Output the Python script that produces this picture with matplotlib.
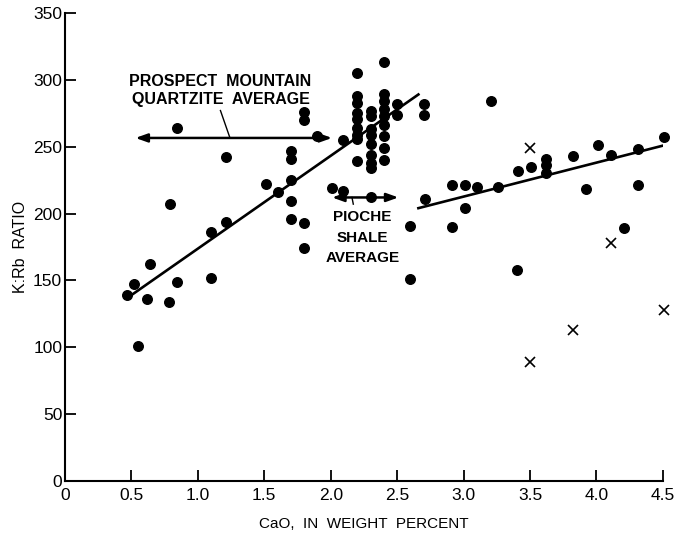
import matplotlib.pyplot as plt

plt.rcParams['font.family'] = ['Liberation Sans', 'DejaVu Sans']

# filled circles (CaO wt %, K:Rb ratio)
dot_x = [0.47, 0.52, 0.55, 0.62, 0.64, 0.78, 0.79, 0.84, 0.84, 1.10, 1.10, 1.21, 1.21,
         1.51, 1.60, 1.70, 1.70, 1.70, 1.70, 1.70, 1.80, 1.80, 1.80, 1.80, 1.90,
         2.01, 2.09, 2.09,
         2.2, 2.2, 2.2, 2.2, 2.2, 2.2, 2.2, 2.2, 2.2,
         2.3, 2.3, 2.3, 2.3, 2.3, 2.3, 2.3, 2.3, 2.3,
         2.4, 2.4, 2.4, 2.4, 2.4, 2.4, 2.4, 2.4, 2.4,
         2.5, 2.5, 2.7, 2.7,
         2.60, 2.60, 2.71, 2.91, 2.91, 3.01, 3.01, 3.10, 3.21, 3.26, 3.40, 3.41, 3.51,
         3.62, 3.62, 3.62, 3.82, 3.92, 4.01, 4.11, 4.21, 4.31, 4.31, 4.51]
dot_y = [139, 147, 101, 136, 162, 134, 207, 149, 264, 152, 186, 194, 242,
         222, 216, 247, 241, 225, 209, 196, 276, 270, 193, 174, 258,
         219, 217, 255,
         305, 288, 283, 275, 271, 264, 259, 256, 239,
         277, 273, 263, 259, 252, 244, 238, 234, 212,
         313, 289, 284, 278, 273, 266, 258, 249, 240,
         282, 274, 282, 274,
         191, 151, 211, 221, 190, 221, 204, 220, 284, 220, 158, 232, 235,
         241, 236, 230, 243, 218, 251, 244, 189, 248, 221, 257]

# crosses
cross_x = [3.50, 3.50, 3.82, 4.11, 4.51]
cross_y = [249, 89, 113, 178, 128]

# fitted lines (end points)
trend1_x = [0.50, 2.66]
trend1_y = [139, 289]
trend2_x = [2.66, 4.51]
trend2_y = [204, 251]

# averages shown as double arrows
prospect_x = [0.53, 2.01]
prospect_y = 256.5
pioche_x = [2.01, 2.51]
pioche_y = 212

x_ticks = [0, 0.5, 1.0, 1.5, 2.0, 2.5, 3.0, 3.5, 4.0, 4.5]
x_tick_labels = ['0', '0.5', '1.0', '1.5', '2.0', '2.5', '3.0', '3.5', '4.0', '4.5']
y_ticks = [0, 50, 100, 150, 200, 250, 300, 350]

fig = plt.figure(figsize=(6.75, 5.38), dpi=100)
ax = fig.add_axes([0.0963, 0.106, 0.8857, 0.870])

ax.plot(dot_x, dot_y, 'o', color='black', markersize=6.9, clip_on=False)
ax.plot(cross_x, cross_y, 'x', color='black', markersize=6.5, mew=1.2, clip_on=False)
ax.plot(trend1_x, trend1_y, color='black', lw=1.9)
ax.plot(trend2_x, trend2_y, color='black', lw=1.9)

arrow = dict(arrowstyle='<|-|>,head_length=0.7,head_width=0.25', color='black', lw=1.8,
             shrinkA=0, shrinkB=0)
ax.annotate('', xy=(prospect_x[0], prospect_y), xytext=(prospect_x[1], prospect_y),
            arrowprops=arrow)
ax.annotate('', xy=(pioche_x[0], pioche_y), xytext=(pioche_x[1], pioche_y),
            arrowprops=arrow)
ax.plot([1.17, 1.24], [277, 257], color='black', lw=1.0)
ax.plot([2.16, 2.17], [212, 207], color='black', lw=1.0)

ax.text(1.17, 298.5, 'PROSPECT  MOUNTAIN', ha='center', va='center', fontsize=11.5,
        fontweight='bold')
ax.text(1.17, 285, 'QUARTZITE  AVERAGE', ha='center', va='center', fontsize=11.5,
        fontweight='bold')
ax.text(2.24, 197.5, 'PIOCHE', ha='center', va='center', fontsize=11, fontweight='bold')
ax.text(2.24, 182, 'SHALE', ha='center', va='center', fontsize=11, fontweight='bold')
ax.text(2.24, 167, 'AVERAGE', ha='center', va='center', fontsize=11, fontweight='bold')

ax.set_xlim(0, 4.5)
ax.set_ylim(0, 350)
ax.set_xticks(x_ticks)
ax.set_xticklabels(x_tick_labels)
ax.set_yticks(y_ticks)
ax.tick_params(direction='in', length=8, width=1.3, labelsize=12.5)
ax.tick_params(axis='x', pad=5)
ax.tick_params(axis='y', pad=2)
for s in ['top', 'right']:
    ax.spines[s].set_visible(False)
for s in ['left', 'bottom']:
    ax.spines[s].set_linewidth(1.5)

ax.set_xlabel('CaO,  IN  WEIGHT  PERCENT', fontsize=11, labelpad=10)
ax.set_ylabel('K:Rb  RATIO', fontsize=11.5, labelpad=4)

fig.savefig('out.png', dpi=100)
